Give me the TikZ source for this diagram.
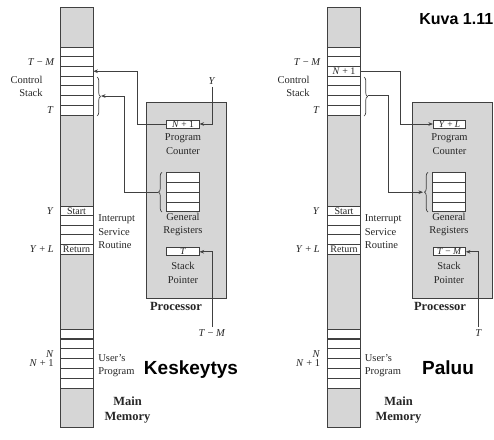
\documentclass[tikz,border=0pt]{standalone}
\usepackage{fontspec}
\setmainfont{Liberation Serif}
\newfontfamily\arialb{Liberation Sans}
\usetikzlibrary{arrows.meta,decorations.pathreplacing}
\definecolor{memgray}{gray}{0.84}
\definecolor{linec}{gray}{0.25}
\begin{document}
\begin{tikzpicture}[x=1pt,y=-1pt,line width=0.7pt,
  every node/.style={text=black!85},
  box/.style={draw=linec, fill=memgray, inner sep=0pt},
  cell/.style={draw=linec, fill=white, minimum width=33pt, minimum height=9.7pt, inner sep=0pt, font=\fontsize{10}{10}\selectfont},
  reg/.style={draw=linec, fill=white, minimum width=32.5pt, minimum height=8pt, inner sep=0pt, font=\fontsize{9.5}{10}\selectfont},
  txt/.style={font=\fontsize{10.5}{13.5}\selectfont, inner sep=0pt},
  bld/.style={font=\fontsize{12.5}{15.5}\selectfont\bfseries, inner sep=0pt, align=center},
  big/.style={font=\arialb\bfseries\fontsize{19}{20}\selectfont, inner sep=0pt, text=black},
  arr/.style={draw=linec, -{Stealth[length=4.5pt,width=3.6pt]}},
  brc/.style={draw=linec, decorate, decoration={brace, amplitude=3.5pt}}
]
\useasboundingbox (0,0) rectangle (494,439);

% ================= LEFT PANEL =================
\node[box, minimum width=33pt, minimum height=420pt] (memL) at (76.5,217) {};
\foreach \i in {1,...,7} \node[cell] (L\i) at (76.5,{47+9.7*(\i-0.5)}) {};
\node[cell] (LI1) at (76.5,210.8) {Start};
\node[cell] (LI2) at (76.5,220.4) {};
\node[cell] (LI3) at (76.5,230.0) {};
\node[cell] (LI4) at (76.5,239.6) {};
\node[cell] (LI5) at (76.5,249.2) {Return};
\foreach \i in {1,...,6} \node[cell] (LU\i) at (76.5,{329+9.83*(\i-0.5)}) {};

\node[txt, anchor=east] (tmL) at (55,62) {\textit{T} − \textit{M}};
\node[txt, anchor=east, align=right] (csL) at (43,86.5) {Control\\Stack};
\node[txt, anchor=east] (tL) at (54,110) {\textit{T}};
\node[txt, anchor=east] (yyL) at (54,211) {\textit{Y}};
\node[txt, anchor=east] (ylL) at (54,249) {\textit{Y} + \textit{L}};
\node[txt, anchor=west, align=left] (isrL) at (98,232) {Interrupt\\Service\\Routine};
\node[txt, anchor=east, align=right, font=\fontsize{10.5}{9.5}\selectfont] (nL) at (54,358.5) {\textit{N}\\\textit{N} + 1};
\node[txt, anchor=west, align=left] (upL) at (98,365.5) {User's\\Program};
\node[bld] (mmL) at (127.5,410) {Main\\Memory};

\coordinate (sbL) at (101,96);
\draw[brc] (97,77) -- (97,116);

\node[box, minimum width=80pt, minimum height=196pt, anchor=north west] (procL) at (146,102) {};
\node[reg] (pcL) at (183,124) {\textit{N} + 1};
\node[txt, align=center] (pclL) at (183,144) {Program\\Counter};
\foreach \i in {1,...,4} \node[reg, minimum height=9.85pt] (gL\i) at (183,{172.3+9.85*(\i-0.5)}) {};
\draw[brc] (162,212) -- (162,172.3);
\coordinate (gbL) at (157.5,192.2);
\node[txt, align=center] (grlL) at (183,224.5) {General\\Registers};
\node[reg] (spL) at (183,251.8) {\textit{T}};
\node[txt, align=center] (splL) at (183,273) {Stack\\Pointer};
\node[bld] (prL) at (176,306) {Processor};

\node[txt] (yinL) at (212,81) {\textit{Y}};
\node[txt] (tminL) at (212,333) {\textit{T} − \textit{M}};

\draw[arr] (pcL.west) -- ++(-29,0) |- (L3.east);
\draw[arr] (gbL) -- (124,192.2) |- (sbL);
\draw[arr] (yinL.south) ++(0,2) |- (pcL.east);
\draw[arr] (tminL.north) ++(0,-2) |- (spL.east);

\node[big, anchor=base] (kesk) at (191,374) {Keskeytys};

% ================= RIGHT PANEL =================
\node[box, minimum width=33pt, minimum height=420pt] (memR) at (344,217) {};
\foreach \i in {1,...,7} \node[cell] (R\i) at (344,{47+9.7*(\i-0.5)}) {};
\node[cell] (Rn) at (R3) {\textit{N} + 1};
\node[cell] (RI1) at (344,210.8) {Start};
\node[cell] (RI2) at (344,220.4) {};
\node[cell] (RI3) at (344,230.0) {};
\node[cell] (RI4) at (344,239.6) {};
\node[cell] (RI5) at (344,249.2) {Return};
\foreach \i in {1,...,6} \node[cell] (RU\i) at (344,{329+9.83*(\i-0.5)}) {};

\node[txt, anchor=east] (tmR) at (321,62) {\textit{T} − \textit{M}};
\node[txt, anchor=east, align=right] (csR) at (310,86.5) {Control\\Stack};
\node[txt, anchor=east] (tR) at (320,110) {\textit{T}};
\node[txt, anchor=east] (yyR) at (320,211) {\textit{Y}};
\node[txt, anchor=east] (ylR) at (320,249) {\textit{Y} + \textit{L}};
\node[txt, anchor=west, align=left] (isrR) at (364.5,232) {Interrupt\\Service\\Routine};
\node[txt, anchor=east, align=right, font=\fontsize{10.5}{9.5}\selectfont] (nR) at (320.5,358.5) {\textit{N}\\\textit{N} + 1};
\node[txt, anchor=west, align=left] (upR) at (364.5,365.5) {User's\\Program};
\node[bld] (mmR) at (398.5,410) {Main\\Memory};

\draw[brc] (364,77) -- (364,116);
\coordinate (sbR) at (368,95.5);

\node[box, minimum width=80pt, minimum height=196pt, anchor=north west] (procR) at (412.3,102) {};
\node[reg] (pcR) at (449.5,124) {\textit{Y} + \textit{L}};
\node[txt, align=center] (pclR) at (449.5,144) {Program\\Counter};
\foreach \i in {1,...,4} \node[reg, minimum height=9.85pt] (gR\i) at (449,{172.3+9.85*(\i-0.5)}) {};
\draw[brc] (428,212) -- (428,172.3);
\coordinate (gbR) at (423,192.2);
\node[txt, align=center] (grlR) at (449,224.5) {General\\Registers};
\node[reg] (spR) at (449.3,251.8) {\textit{T} − \textit{M}};
\node[txt, align=center] (splR) at (449,273) {Stack\\Pointer};
\node[bld] (prR) at (440,306) {Processor};

\node[txt] (tinR) at (478.5,333) {\textit{T}};

\draw[arr] (Rn.east) -- ++(39,0) |- (pcR.west);
\draw[arr] (sbR) -- ++(20.5,0) |- (gbR);
\draw[arr] (tinR.north) ++(0,-2) |- (spR.east);

\node[big, anchor=base] (paluu) at (448,374) {Paluu};
\node[font=\arialb\bfseries\fontsize{16}{17}\selectfont, inner sep=0pt, text=black, anchor=base west] (kuva) at (419,24) {Kuva 1.11};
\end{tikzpicture}
\end{document}
